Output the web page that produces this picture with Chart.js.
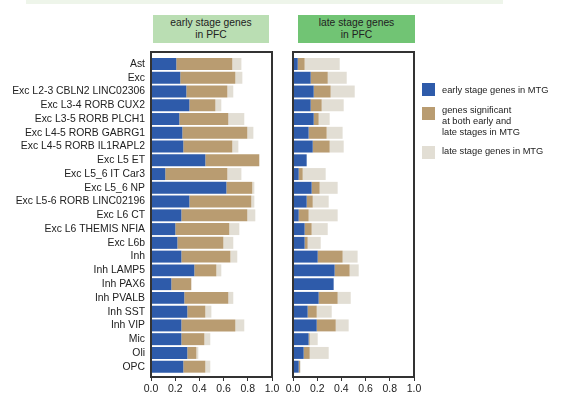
<!DOCTYPE html>
<html>
<head>
<meta charset="utf-8">
<script src="https://cdn.jsdelivr.net/npm/chart.js@4/dist/chart.umd.min.js"></script>
<style>
  html, body { margin: 0; padding: 0; background: #fff; }
  #wrap { position: relative; width: 562px; height: 395px; overflow: hidden;
          font-family: "Liberation Sans", Arial, sans-serif; color: #222; }
  .strip { position: absolute; left: 26px; top: 0; width: 477px; height: 4px; background: #eef5ea; }
  .hdr { position: absolute; top: 15px; height: 28px; display: flex; align-items: center;
         justify-content: center; text-align: center; font-size: 10.3px; line-height: 12px; color: #222; }
  canvas { position: absolute; top: 0; }
  .sw { position: absolute; left: 422px; width: 13px; height: 13px; }
  .lt { position: absolute; left: 442px; font-size: 9.3px; line-height: 11px; color: #222; white-space: nowrap; }
</style>
</head>
<body>
<div id="wrap">
  <div class="strip"></div>
  <div class="hdr" style="left:153px;width:116px;background:#badeb3;">early stage genes<br>in PFC</div>
  <div class="hdr" style="left:298px;width:117px;background:#71c474;">late stage genes<br>in PFC</div>
  <canvas id="early" width="285" height="395" style="left:0;"></canvas>
  <canvas id="late" width="150" height="395" style="left:280px;"></canvas>
  <div class="sw" style="top:83px;background:#2e5baa;"></div>
  <div class="lt" style="top:85px;">early stage genes in MTG</div>
  <div class="sw" style="top:107px;background:#b99c71;"></div>
  <div class="lt" style="top:105px;">genes significant<br>at both early and<br>late stages in MTG</div>
  <div class="sw" style="top:146px;background:#e2ded4;"></div>
  <div class="lt" style="top:146px;">late stage genes in MTG</div>
</div>
<script>
// Cell types (rows, top to bottom)
const categories = [
  "Ast", "Exc", "Exc L2-3 CBLN2 LINC02306", "Exc L3-4 RORB CUX2",
  "Exc L3-5 RORB PLCH1", "Exc L4-5 RORB GABRG1", "Exc L4-5 RORB IL1RAPL2",
  "Exc L5 ET", "Exc L5_6 IT Car3", "Exc L5_6 NP", "Exc L5-6 RORB LINC02196",
  "Exc L6 CT", "Exc L6 THEMIS NFIA", "Exc L6b", "Inh", "Inh LAMP5", "Inh PAX6",
  "Inh PVALB", "Inh SST", "Inh VIP", "Mic", "Oli", "OPC"
];

// Series names (legend order)
const seriesNames = [
  "early stage genes in MTG",
  "genes significant at both early and late stages in MTG",
  "late stage genes in MTG"
];

// Fractions of early-stage PFC genes
const earlyPfcMtgEarly = [0.209,0.242,0.292,0.317,0.234,0.259,0.267,0.449,0.118,0.623,0.317,0.251,0.201,0.218,0.251,0.358,0.168,0.275,0.300,0.251,0.251,0.300,0.267];
const earlyPfcMtgBoth  = [0.463,0.455,0.339,0.215,0.405,0.537,0.405,0.446,0.513,0.214,0.512,0.545,0.446,0.380,0.405,0.182,0.165,0.364,0.149,0.446,0.190,0.075,0.182];
const earlyPfcMtgLate  = [0.075,0.058,0.049,0.049,0.132,0.050,0.050,0.000,0.116,0.017,0.025,0.066,0.083,0.082,0.057,0.041,0.000,0.041,0.050,0.074,0.049,0.016,0.041];

// Fractions of late-stage PFC genes
const latePfcMtgEarly = [0.039,0.146,0.171,0.146,0.171,0.129,0.163,0.113,0.047,0.154,0.113,0.047,0.096,0.096,0.204,0.344,0.336,0.212,0.121,0.196,0.129,0.088,0.047];
const latePfcMtgBoth  = [0.057,0.141,0.140,0.091,0.041,0.149,0.140,0.000,0.033,0.066,0.050,0.082,0.058,0.025,0.206,0.124,0.000,0.157,0.075,0.157,0.009,0.050,0.011];
const latePfcMtgLate  = [0.290,0.157,0.199,0.182,0.091,0.132,0.116,0.000,0.190,0.149,0.132,0.240,0.133,0.108,0.124,0.075,0.000,0.108,0.124,0.107,0.066,0.157,0.005];

// X tick values
const xTicks = [0, 0.2, 0.4, 0.6, 0.8, 1.0];

const colors = ["#2e5baa", "#b99c71", "#e2ded4"];

// Box around each plot area
const framePlugin = {
  id: "frame",
  afterDatasetsDraw(chart) {
    const a = chart.chartArea, ctx = chart.ctx;
    ctx.save();
    ctx.strokeStyle = "#333";
    ctx.lineWidth = 2;
    ctx.strokeRect(a.left, a.top, a.right - a.left, a.bottom - a.top);
    ctx.restore();
  }
};

function makeChart(id, series, showLabels, padding) {
  const rowIndex = categories.map((_, i) => i);
  return new Chart(document.getElementById(id), {
    type: "bar",
    data: {
      labels: rowIndex,
      datasets: series.map((d, k) => ({
        label: seriesNames[k],
        data: d,
        backgroundColor: colors[k],
        borderWidth: 0,
        barPercentage: 0.87,
        categoryPercentage: 1
      }))
    },
    options: {
      indexAxis: "y",
      responsive: false,
      animation: false,
      devicePixelRatio: 1,
      layout: { padding: padding },
      plugins: { legend: { display: false }, tooltip: { enabled: false } },
      scales: {
        x: {
          type: "linear",
          stacked: true,
          min: 0, max: 1,
          afterBuildTicks(scale) { scale.ticks = xTicks.map(v => ({ value: v })); },
          afterFit(scale) { scale.height = 18; },
          border: { display: false },
          grid: { drawOnChartArea: false, drawTicks: true, tickLength: 4, color: "#333" },
          ticks: {
            padding: 2,
            color: "#222",
            font: { family: "Liberation Sans", size: 10.5 },
            callback: v => Number(v).toFixed(1)
          }
        },
        y: {
          type: "linear",
          stacked: true,
          reverse: true,
          offset: false,
          min: -0.872, max: 22.75,
          display: showLabels,
          afterFit(scale) { if (showLabels) scale.width = 151; },
          border: { display: false },
          grid: { display: false, drawTicks: false, offset: false },
          ticks: {
            stepSize: 1,
            includeBounds: false,
            autoSkip: false,
            padding: 6,
            color: "#222",
            font: { family: "Liberation Sans", size: 10.4 },
            callback: v => (Number.isInteger(v) && categories[v] !== undefined) ? categories[v] : ""
          }
        }
      }
    },
    plugins: [framePlugin]
  });
}

makeChart("early", [earlyPfcMtgEarly, earlyPfcMtgBoth, earlyPfcMtgLate], true,
  { left: 0, right: 13, top: 52, bottom: 0 });
makeChart("late", [latePfcMtgEarly, latePfcMtgBoth, latePfcMtgLate], false,
  { left: 13, right: 16, top: 52, bottom: 0 });
</script>
</body>
</html>
